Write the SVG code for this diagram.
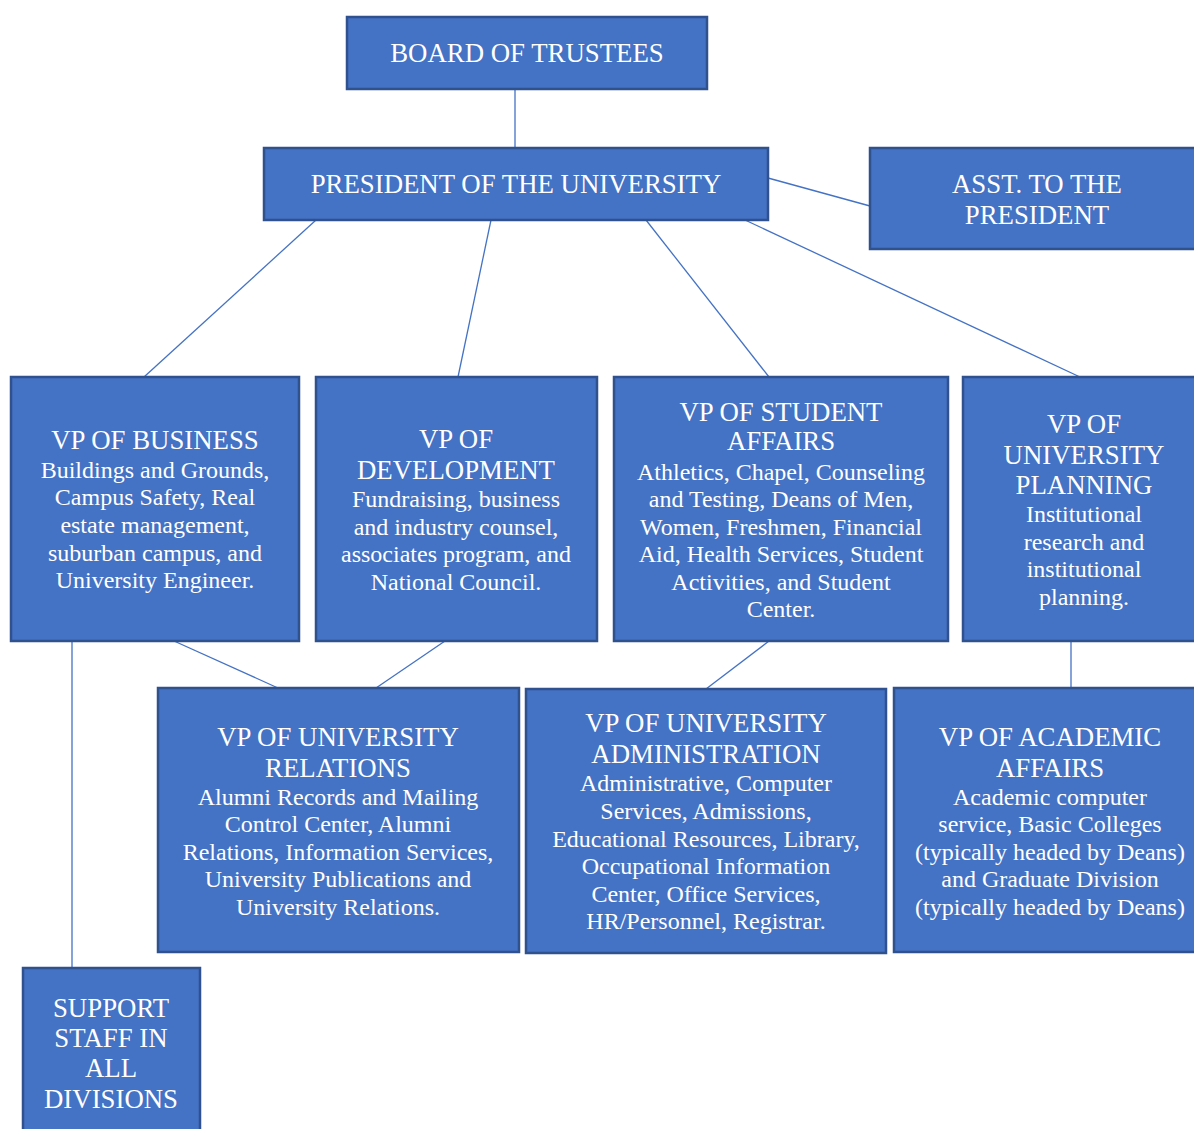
<svg xmlns="http://www.w3.org/2000/svg" width="1194" height="1129" viewBox="0 0 1194 1129">
  <style>
    .box { fill: #4472C4; stroke: #2F528F; stroke-width: 2.5; }
    .link { stroke: #4472C4; stroke-width: 1.3; fill: none; }
    text { font-family: "Liberation Serif", "Times New Roman", serif; fill: #FFFFFF; text-anchor: middle; }
    .h { font-size: 26.8px; }
    .b { font-size: 24px; }
  </style>

  <g id="connectors">
    <line class="link" x1="515" y1="89" x2="515" y2="148"/>
    <line class="link" x1="768" y1="178" x2="870" y2="206"/>
    <line class="link" x1="316" y1="220" x2="144" y2="377"/>
    <line class="link" x1="491" y1="220" x2="458" y2="377"/>
    <line class="link" x1="646" y1="220" x2="769" y2="377"/>
    <line class="link" x1="745" y1="220" x2="1080" y2="377"/>
    <line class="link" x1="174" y1="641" x2="278" y2="688"/>
    <line class="link" x1="445" y1="641" x2="376" y2="688"/>
    <line class="link" x1="769" y1="641" x2="706" y2="689"/>
    <line class="link" x1="1071" y1="641" x2="1071" y2="688"/>
    <line class="link" x1="72" y1="641" x2="72" y2="968"/>
  </g>

  <g id="board">
    <rect class="box" x="347" y="17" width="360" height="72"/>
    <text class="h" x="527" y="62">BOARD OF TRUSTEES</text>
  </g>

  <g id="president">
    <rect class="box" x="264" y="148" width="504" height="72"/>
    <text class="h" x="516" y="193">PRESIDENT OF THE UNIVERSITY</text>
  </g>

  <g id="asst-president">
    <rect class="box" x="870" y="148" width="330" height="101"/>
    <text class="h" x="1037" y="193">ASST. TO THE</text>
    <text class="h" x="1037" y="224">PRESIDENT</text>
  </g>

  <g id="vp-business">
    <rect class="box" x="11" y="377" width="288" height="264"/>
    <text class="h" x="155" y="449">VP OF BUSINESS</text>
    <text class="b" x="155" y="478">Buildings and Grounds,</text>
    <text class="b" x="155" y="505">Campus Safety, Real</text>
    <text class="b" x="155" y="533">estate management,</text>
    <text class="b" x="155" y="561">suburban campus, and</text>
    <text class="b" x="155" y="588">University Engineer.</text>
  </g>

  <g id="vp-development">
    <rect class="box" x="316" y="377" width="281" height="264"/>
    <text class="h" x="456" y="448">VP OF</text>
    <text class="h" x="456" y="479">DEVELOPMENT</text>
    <text class="b" x="456" y="507">Fundraising, business</text>
    <text class="b" x="456" y="535">and industry counsel,</text>
    <text class="b" x="456" y="562">associates program, and</text>
    <text class="b" x="456" y="590">National Council.</text>
  </g>

  <g id="vp-student-affairs">
    <rect class="box" x="614" y="377" width="334" height="264"/>
    <text class="h" x="781" y="421">VP OF STUDENT</text>
    <text class="h" x="781" y="450">AFFAIRS</text>
    <text class="b" x="781" y="480">Athletics, Chapel, Counseling</text>
    <text class="b" x="781" y="507">and Testing, Deans of Men,</text>
    <text class="b" x="781" y="535">Women, Freshmen, Financial</text>
    <text class="b" x="781" y="562">Aid, Health Services, Student</text>
    <text class="b" x="781" y="590">Activities, and Student</text>
    <text class="b" x="781" y="617">Center.</text>
  </g>

  <g id="vp-planning">
    <rect class="box" x="963" y="377" width="240" height="264"/>
    <text class="h" x="1084" y="433">VP OF</text>
    <text class="h" x="1084" y="464">UNIVERSITY</text>
    <text class="h" x="1084" y="494">PLANNING</text>
    <text class="b" x="1084" y="522">Institutional</text>
    <text class="b" x="1084" y="550">research and</text>
    <text class="b" x="1084" y="577">institutional</text>
    <text class="b" x="1084" y="605">planning.</text>
  </g>

  <g id="vp-relations">
    <rect class="box" x="158" y="688" width="361" height="264"/>
    <text class="h" x="338" y="746">VP OF UNIVERSITY</text>
    <text class="h" x="338" y="777">RELATIONS</text>
    <text class="b" x="338" y="805">Alumni Records and Mailing</text>
    <text class="b" x="338" y="832">Control Center, Alumni</text>
    <text class="b" x="338" y="860">Relations, Information Services,</text>
    <text class="b" x="338" y="887">University Publications and</text>
    <text class="b" x="338" y="915">University Relations.</text>
  </g>

  <g id="vp-administration">
    <rect class="box" x="526" y="689" width="360" height="264"/>
    <text class="h" x="706" y="732">VP OF UNIVERSITY</text>
    <text class="h" x="706" y="763">ADMINISTRATION</text>
    <text class="b" x="706" y="791">Administrative, Computer</text>
    <text class="b" x="706" y="819">Services, Admissions,</text>
    <text class="b" x="706" y="847">Educational Resources, Library,</text>
    <text class="b" x="706" y="874">Occupational Information</text>
    <text class="b" x="706" y="902">Center, Office Services,</text>
    <text class="b" x="706" y="929">HR/Personnel, Registrar.</text>
  </g>

  <g id="vp-academic">
    <rect class="box" x="894" y="688" width="310" height="264"/>
    <text class="h" x="1050" y="746">VP OF ACADEMIC</text>
    <text class="h" x="1050" y="777">AFFAIRS</text>
    <text class="b" x="1050" y="805">Academic computer</text>
    <text class="b" x="1050" y="832">service, Basic Colleges</text>
    <text class="b" x="1050" y="860">(typically headed by Deans)</text>
    <text class="b" x="1050" y="887">and Graduate Division</text>
    <text class="b" x="1050" y="915">(typically headed by Deans)</text>
  </g>

  <g id="support-staff">
    <rect class="box" x="23" y="968" width="177" height="170"/>
    <text class="h" x="111" y="1017">SUPPORT</text>
    <text class="h" x="111" y="1047">STAFF IN</text>
    <text class="h" x="111" y="1077">ALL</text>
    <text class="h" x="111" y="1108">DIVISIONS</text>
  </g>
</svg>
